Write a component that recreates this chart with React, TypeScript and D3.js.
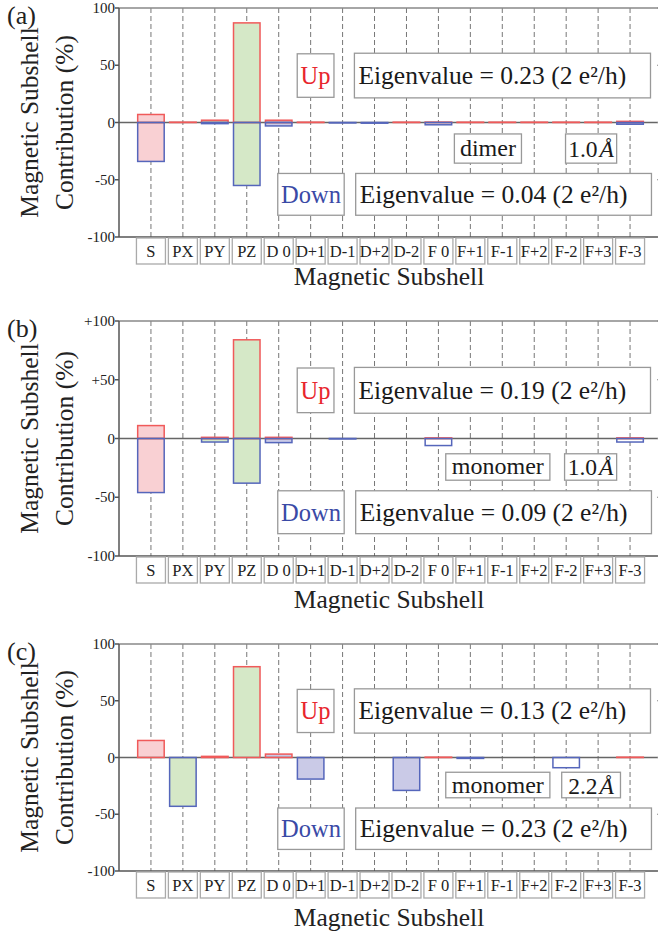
import React from "react";
import { scaleLinear } from "d3";

const categories = ["S", "PX", "PY", "PZ", "D 0", "D+1", "D-1", "D+2", "D-2", "F 0", "F+1", "F-1", "F+2", "F-2", "F+3", "F-3"];

// spin up / spin down contributions (%)
const upA = [7, 0.3, 2, 87, 2, 0.3, 0, 0, 0.3, 0.3, 0.3, 0.3, 0.3, 0.3, 0.3, 1];
const downA = [-34, 0, -1, -55, -3, 0, -0.4, -0.6, 0, -2, 0, 0, 0, 0, 0, -1.5];
const upB = [11, 0, 1, 84, 1, 0, 0, 0, 0, 0.5, 0, 0, 0, 0, 0, 0.5];
const downB = [-46, 0, -3, -38, -3.5, 0, -0.4, 0, 0, -6, 0, 0, 0, 0, 0, -3];
const upC = [15, 0, 1, 80, 3, 0, 0, 0, 0, 0.3, 0, 0, 0, 0, 0, 0.3];
const downC = [0, -43, 0, 0, 0, -19, 0, 0, -29, 0, -0.8, 0, 0, -9, 0, 0];

const tickValues = [-100, -50, 0, 50, 100];
const tickLabelsPlain = ["-100", "-50", "0", "50", "100"];
const tickLabelsSigned = ["-100", "-50", "0", "+50", "+100"];

const panelTags = ["(a)", "(b)", "(c)"];
const eigenUp = ["0.23", "0.19", "0.13"];
const eigenDown = ["0.04", "0.09", "0.23"];
const structures = ["dimer", "monomer", "monomer"];
const distances = ["1.0", "1.0", "2.2"];

const upStroke = "#f05a5a";
const downStroke = "#5566bb";
const fills: Record<string, string> = { S: "#f9d0d3", P: "#d5e8c7", D: "#cacae7", F: "#ffffff" };
const serif = "'Liberation Serif', 'DejaVu Serif', serif";

const Panel = ({ idx, top, bottom, titleY, up, down, tickLabels, nameBox, lenBox }: any) => {
  const x = scaleLinear().domain([0, 17]).range([119, 662]);
  const y = scaleLinear().domain([-100, 100]).range([bottom, top]);
  const barW = (x(1) - x(0)) * 0.83;
  const y0 = y(0);

  const rectFor = (v: number) => {
    const a = y(v);
    return { y: Math.min(a, y0), height: Math.max(Math.abs(a - y0), 0.01) };
  };

  const box = (x1: number, x2: number, v1: number, v2: number) => ({
    x: x(x1), y: y(v1), width: x(x2) - x(x1), height: y(v2) - y(v1),
  });

  const upLabel = box(5.58, 6.73, 60, 22);
  const upEigen = box(7.37, 16.64, 60.5, 21.5);
  const downLabel = box(4.97, 7.05, -44.5, -81);
  const downEigen = box(7.41, 16.67, -44.5, -81);
  const nb = box(nameBox[0], nameBox[1], nameBox[2], -35.5);
  const lb = box(lenBox[0], lenBox[1], nameBox[2], -35.5);

  return (
    <g fontFamily={serif}>
      <text x={7} y={top + 16} fontSize={26} fill="#222">{panelTags[idx]}</text>

      {/* y axis title */}
      <g transform={`translate(38, ${y0}) rotate(-90)`}>
        <text textAnchor="middle" fontSize={25.5} fill="#222">Magnetic Subshell</text>
      </g>
      <g transform={`translate(73, ${y0}) rotate(-90)`}>
        <text textAnchor="middle" fontSize={25.5} fill="#222">Contribution (%)</text>
      </g>

      {/* grid lines */}
      {categories.map((c, i) => (
        <line key={c} x1={x(i + 1)} x2={x(i + 1)} y1={top} y2={bottom}
          stroke="#777" strokeWidth={1} strokeDasharray="5,3" />
      ))}

      {/* bar fills */}
      {categories.map((c, i) => (
        <g key={c}>
          {up[i] !== 0 && <rect x={x(i + 1) - barW / 2} width={barW} {...rectFor(up[i])} fill={fills[c[0]]} />}
          {down[i] !== 0 && <rect x={x(i + 1) - barW / 2} width={barW} {...rectFor(down[i])} fill={fills[c[0]]} />}
        </g>
      ))}

      {/* zero line */}
      <line x1={x(0)} x2={x(17)} y1={y0} y2={y0} stroke="#666" strokeWidth={1.5} />

      {/* bar outlines */}
      {categories.map((c, i) => (
        <g key={c}>
          {up[i] !== 0 && <rect x={x(i + 1) - barW / 2} width={barW} {...rectFor(up[i])} fill="none" stroke={upStroke} strokeWidth={1.5} />}
          {down[i] !== 0 && <rect x={x(i + 1) - barW / 2} width={barW} {...rectFor(down[i])} fill="none" stroke={downStroke} strokeWidth={1.5} />}
        </g>
      ))}

      {/* frame */}
      <line x1={x(0)} x2={x(17)} y1={top} y2={top} stroke="#888" strokeWidth={1.5} />
      <line x1={x(0)} x2={x(17)} y1={bottom} y2={bottom} stroke="#555" strokeWidth={1.5} />
      <line x1={x(0)} x2={x(0)} y1={top} y2={bottom} stroke="#555" strokeWidth={1.5} />
      {tickValues.map((t, i) => (
        <g key={t}>
          <line x1={x(0) - 4} x2={x(0)} y1={y(t)} y2={y(t)} stroke="#555" strokeWidth={1.5} />
          <line x1={x(17) - 5} x2={x(17)} y1={y(t)} y2={y(t)} stroke="#888" strokeWidth={1.2} />
          <text x={x(0) - 4} y={y(t) + 5} textAnchor="end" fontSize={15} fill="#222">{tickLabels[i]}</text>
        </g>
      ))}

      {/* category boxes */}
      {categories.map((c, i) => (
        <g key={c}>
          <rect x={x(i + 1) - 14.5} y={bottom + 1} width={29} height={26} fill="#fff" stroke="#aaa" strokeWidth={1.3} />
          <text x={x(i + 1)} y={bottom + 20} textAnchor="middle" fontSize={16.5} fill="#222">{c}</text>
        </g>
      ))}
      <text x={389} y={titleY} textAnchor="middle" fontSize={25.5} fill="#222">Magnetic Subshell</text>

      {/* annotation boxes */}
      {[upLabel, upEigen, downLabel, downEigen, nb, lb].map((b, k) => (
        <rect key={k} {...b} fill="#fff" stroke="#999" strokeWidth={1.3} />
      ))}
      <text x={upLabel.x + upLabel.width / 2} y={upLabel.y + upLabel.height / 2 + 8.5} textAnchor="middle" fontSize={24.5} fill="#e8262c">Up</text>
      <text x={downLabel.x + downLabel.width / 2} y={downLabel.y + downLabel.height / 2 + 8.5} textAnchor="middle" fontSize={24.5} fill="#3a4aa6">Down</text>
      <text x={upEigen.x + 4} y={upEigen.y + upEigen.height / 2 + 8.5} fontSize={25.5} fill="#1a1a1a">{`Eigenvalue = ${eigenUp[idx]} (2 e²/h)`}</text>
      <text x={downEigen.x + 4} y={downEigen.y + downEigen.height / 2 + 8.5} fontSize={25.5} fill="#1a1a1a">{`Eigenvalue = ${eigenDown[idx]} (2 e²/h)`}</text>
      <text x={nb.x + nb.width / 2} y={nb.y + nb.height / 2 + 7.5} textAnchor="middle" fontSize={24} fill="#1a1a1a">{structures[idx]}</text>
      <text x={lb.x + lb.width / 2} y={lb.y + lb.height / 2 + 8.5} textAnchor="middle" fontSize={23.5} fill="#1a1a1a">
        {distances[idx]}<tspan fontStyle="italic" dx={2}>Å</tspan>
      </text>
    </g>
  );
};

const layout = [
  { top: 8, bottom: 237, titleY: 285, up: upA, down: downA, tickLabels: tickLabelsPlain, nameBox: [10.5, 12.6, -10], lenBox: [13.98, 15.58] },
  { top: 321, bottom: 556, titleY: 608, up: upB, down: downB, tickLabels: tickLabelsSigned, nameBox: [10.23, 13.49, -13], lenBox: [13.95, 15.58] },
  { top: 644, bottom: 871, titleY: 926, up: upC, down: downC, tickLabels: tickLabelsPlain, nameBox: [10.23, 13.49, -13], lenBox: [13.86, 15.7] },
];

const App = () => {
  return (
    <svg width={658} height={936} style={{ position: "absolute", left: 0, top: 0, background: "#fff" }}>
      <rect width={658} height={936} fill="#fff" />
      {layout.map((p, i) => (
        <Panel key={i} idx={i} {...p} />
      ))}
    </svg>
  );
};

export default App;
